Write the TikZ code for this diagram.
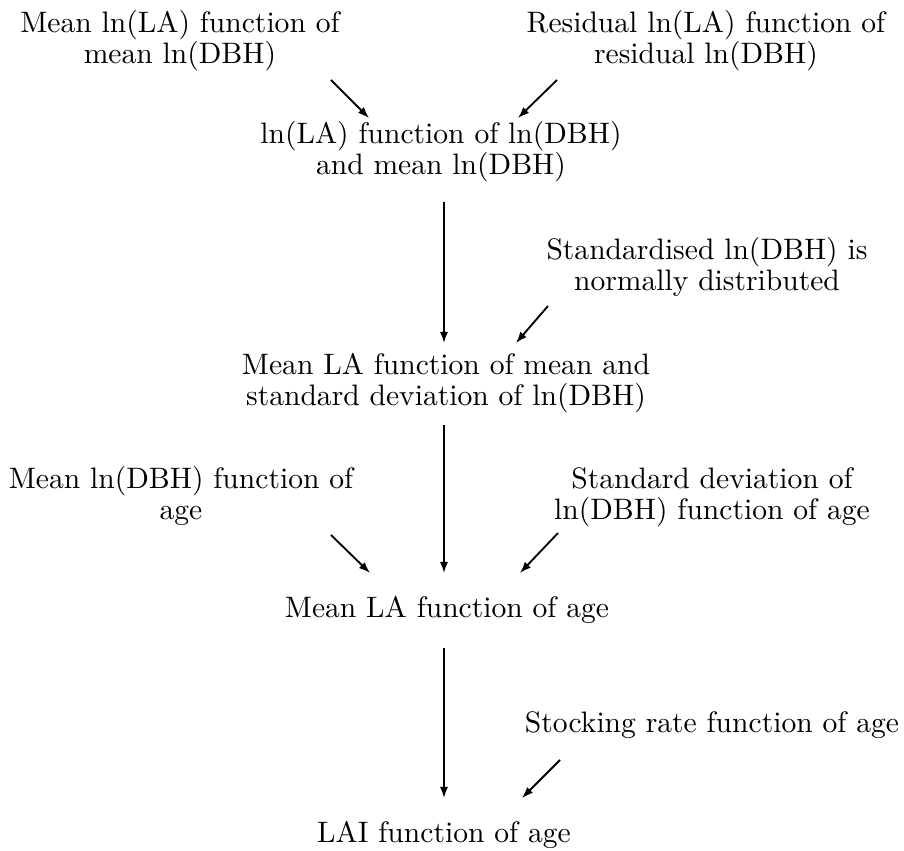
\documentclass[tikz,border=0pt]{standalone}
\usetikzlibrary{arrows.meta}
\begin{document}
\begin{tikzpicture}[x=0.338pt,y=-0.338pt,
  lbl/.style={align=center,inner sep=0pt,anchor=base,font=\fontsize{10}{10.6}\selectfont},
  arr/.style={-{Latex[length=3.8pt,width=2.8pt]},line width=0.62pt}]
\useasboundingbox (0,0) rectangle (904,851);
\node[lbl] (tl) at (180,64) {Mean ln(LA) function of\\mean ln(DBH)};
\node[lbl] (tr) at (706,64) {Residual ln(LA) function of\\residual ln(DBH)};
\node[lbl] (b) at (441,175) {ln(LA) function of ln(DBH)\\and mean ln(DBH)};
\node[lbl] (st) at (707,291) {Standardised ln(DBH) is\\normally distributed};
\node[lbl] (c) at (446,406) {Mean LA function of mean and\\standard deviation of ln(DBH)};
\node[lbl] (ml) at (181,520) {Mean ln(DBH) function of\\age};
\node[lbl] (mr) at (712,520) {Standard deviation of\\ln(DBH) function of age};
\node[lbl] (d) at (447,617) {Mean LA function of age};
\node[lbl] (sk) at (712,732) {Stocking rate function of age};
\node[lbl] (e) at (444,842) {LAI function of age};
% arrow end points
\coordinate (tls) at (331,80);  \coordinate (tle) at (369,118);
\coordinate (trs) at (557,80);  \coordinate (tre) at (518,118);
\coordinate (bs) at (444,202);  \coordinate (be) at (444,343);
\coordinate (sts) at (548,306); \coordinate (ste) at (516,343);
\coordinate (cs) at (444,425);  \coordinate (ce) at (444,573);
\coordinate (mls) at (331,535); \coordinate (mle) at (370,573);
\coordinate (mrs) at (558,533); \coordinate (mre) at (520,573);
\coordinate (ds) at (444,648);  \coordinate (de) at (444,798);
\coordinate (sks) at (560,760); \coordinate (ske) at (522,798);
\draw[arr] (tls) -- (tle);
\draw[arr] (trs) -- (tre);
\draw[arr] (bs) -- (be);
\draw[arr] (sts) -- (ste);
\draw[arr] (cs) -- (ce);
\draw[arr] (mls) -- (mle);
\draw[arr] (mrs) -- (mre);
\draw[arr] (ds) -- (de);
\draw[arr] (sks) -- (ske);
\end{tikzpicture}
\end{document}
